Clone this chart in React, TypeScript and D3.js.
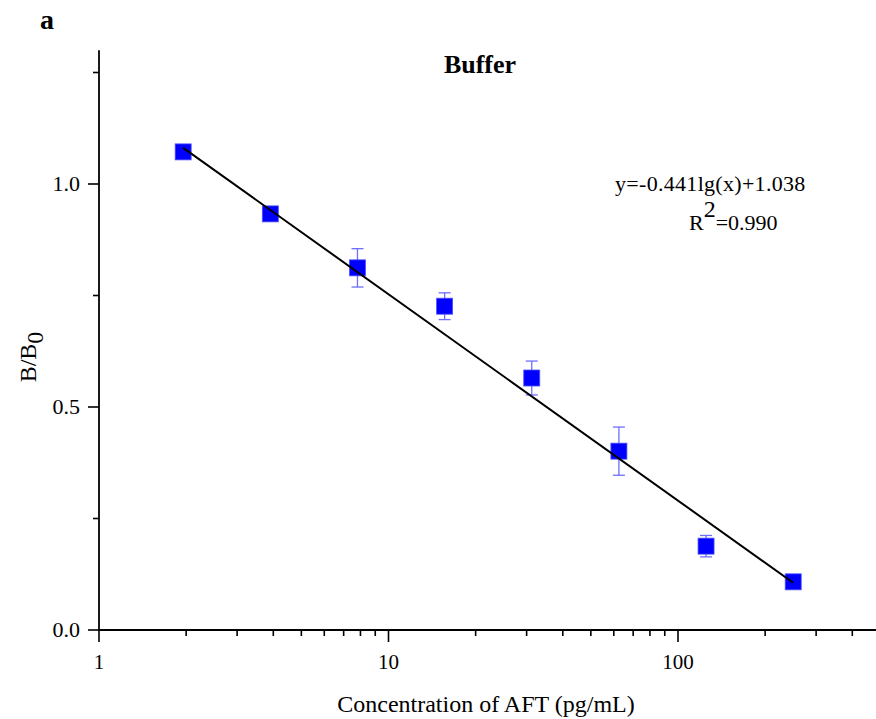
import React from "react";
import * as d3 from "d3";

const concentrations = [1.953125, 3.90625, 7.8125, 15.625, 31.25, 62.5, 125, 250];
const ratios = [1.072, 0.933, 0.812, 0.726, 0.565, 0.401, 0.188, 0.108];
const errors = [0.01, 0.004, 0.043, 0.03, 0.038, 0.054, 0.024, 0.004];
const fitSlope = -0.4627;
const fitIntercept = 1.2155;
const xMajorTicks = [1, 10, 100];
const xTickLabels = ["1", "10", "100"];
const yMajorTicks = [0, 0.5, 1.0];
const yTickLabels = ["0.0", "0.5", "1.0"];
const yMinorTicks = [0.25, 0.75, 1.25];

const FONT = "'Liberation Serif', 'Times New Roman', serif";

export default function App() {
  const x = d3.scaleLog().domain([1, 500]).range([99, 99 + Math.log10(500) * 289.5]);
  const y = d3.scaleLinear().domain([0, 1.3]).range([630, 630 - 1.3 * 446]);

  const xMinor: number[] = [];
  [1, 10, 100].forEach((d) => {
    for (let k = 2; k <= 9; k++) {
      const v = d * k;
      if (v <= 500) xMinor.push(v);
    }
  });

  const fitLine = d3
    .line<number>()
    .x((d) => x(d))
    .y((d) => y(fitSlope * Math.log10(d) + fitIntercept));
  const fitDomain = [concentrations[0], concentrations[concentrations.length - 1]];

  const errColor = "#6e6eff";
  const sq = 16;
  const cap = 6;

  return (
    <svg
      width={876}
      height={719}
      style={{ position: "absolute", left: 0, top: 0, background: "#fff" }}
      fontFamily={FONT}
    >
      <rect x={0} y={0} width={876} height={719} fill="#fff" />
      {/* Axes */}
      <line x1={x(1)} x2={x(1)} y1={y(0)} y2={y(1.3)} stroke="#000" strokeWidth={1.8} />
      <line x1={x(1)} x2={x(500)} y1={y(0)} y2={y(0)} stroke="#000" strokeWidth={1.8} />
      {xMajorTicks.map((t, i) => (
        <g key={"xm" + t}>
          <line x1={x(t)} x2={x(t)} y1={y(0)} y2={y(0) + 12} stroke="#000" strokeWidth={1.6} />
          <text x={x(t)} y={669} textAnchor="middle" fontSize={21} fill="#000">
            {xTickLabels[i]}
          </text>
        </g>
      ))}
      {xMinor.map((t) => (
        <line key={"xn" + t} x1={x(t)} x2={x(t)} y1={y(0)} y2={y(0) + 6} stroke="#000" strokeWidth={1.6} />
      ))}
      {yMajorTicks.map((t, i) => (
        <g key={"ym" + t}>
          <line x1={x(1) - 11} x2={x(1)} y1={y(t)} y2={y(t)} stroke="#000" strokeWidth={1.6} />
          <text x={80} y={y(t) + 7} textAnchor="end" fontSize={22} fill="#000">
            {yTickLabels[i]}
          </text>
        </g>
      ))}
      {yMinorTicks.map((t) => (
        <line key={"yn" + t} x1={x(1) - 6} x2={x(1)} y1={y(t)} y2={y(t)} stroke="#000" strokeWidth={1.6} />
      ))}

      {/* Error bars */}
      {concentrations.map((c, i) => (
        <g key={"e" + i} stroke={errColor} strokeWidth={1.3}>
          <line x1={x(c)} x2={x(c)} y1={y(ratios[i] + errors[i])} y2={y(ratios[i] - errors[i])} />
          <line x1={x(c) - cap} x2={x(c) + cap} y1={y(ratios[i] + errors[i])} y2={y(ratios[i] + errors[i])} />
          <line x1={x(c) - cap} x2={x(c) + cap} y1={y(ratios[i] - errors[i])} y2={y(ratios[i] - errors[i])} />
        </g>
      ))}

      {/* Markers */}
      {concentrations.map((c, i) => (
        <rect
          key={"p" + i}
          x={x(c) - sq / 2}
          y={y(ratios[i]) - sq / 2}
          width={sq}
          height={sq}
          fill="#0000ff"
          stroke="#5050ff"
          strokeWidth={0.8}
        />
      ))}

      {/* Fit line */}
      <path d={fitLine(fitDomain) || ""} stroke="#000" strokeWidth={2} fill="none" />

      {/* Texts */}
      <text x={40} y={29} fontSize={28} fontWeight="bold" fill="#000">a</text>
      <text x={480} y={73} fontSize={26} fontWeight="bold" textAnchor="middle" fill="#000">Buffer</text>
      <text x={615} y={191} fontSize={22} fill="#000" letterSpacing={0.3}>y=-0.441lg(x)+1.038</text>
      <text x={689} y={230} fontSize={22} fill="#000">
        R<tspan dy={-13} fontSize={24}>2</tspan>
        <tspan dy={13} fontSize={22}>=0.990</tspan>
      </text>
      <text x={486} y={712} fontSize={24} textAnchor="middle" fill="#000">
        Concentration of AFT (pg/mL)
      </text>
      <text
        transform={`translate(36, 357) rotate(-90)`}
        fontSize={24}
        textAnchor="middle"
        fill="#000"
      >
        B/B<tspan dy={7} fontSize={24}>0</tspan>
      </text>
    </svg>
  );
}
